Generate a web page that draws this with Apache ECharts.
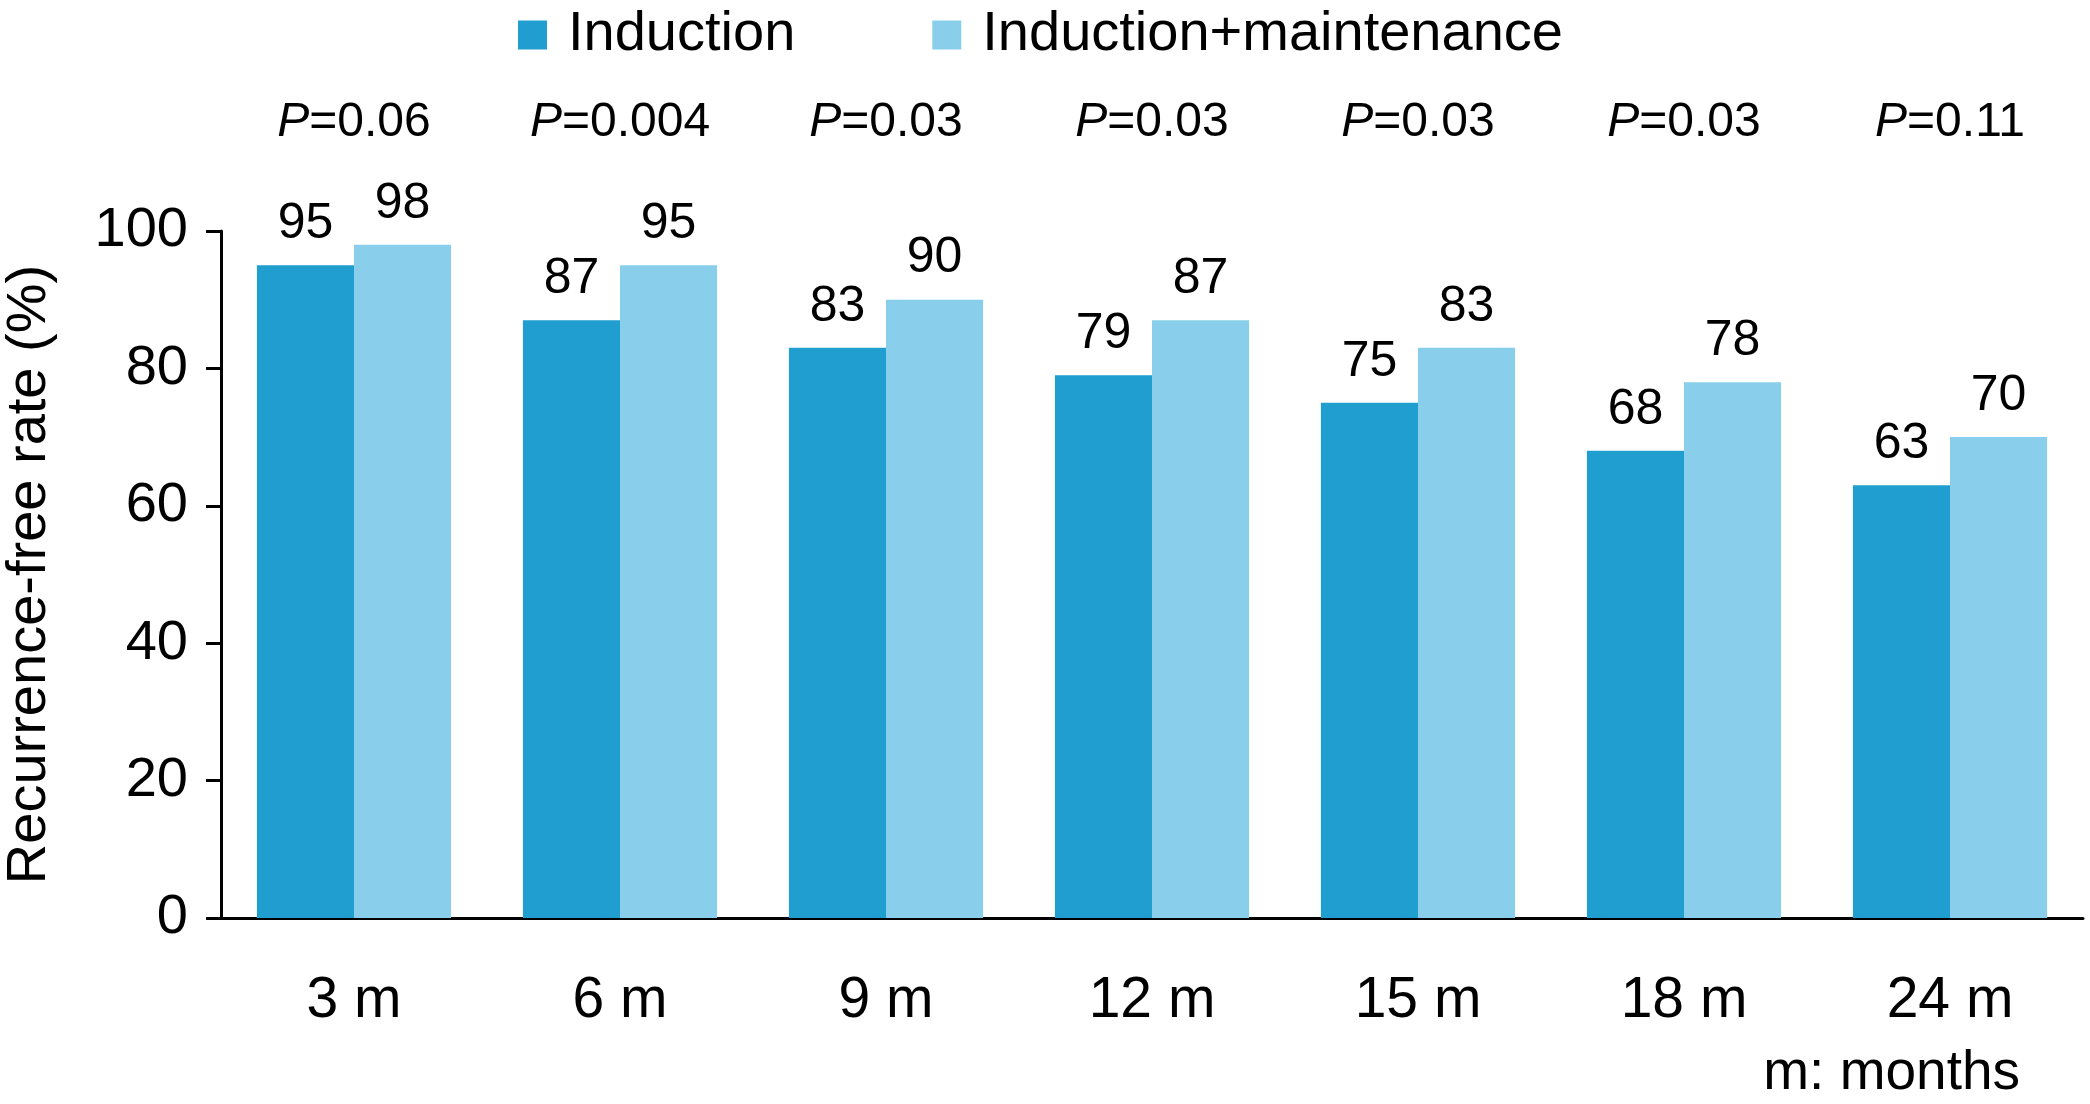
<!DOCTYPE html>
<html>
<head>
<meta charset="utf-8">
<script src="https://cdn.jsdelivr.net/npm/echarts@6/dist/echarts.min.js"></script>
<style>
html,body{margin:0;padding:0;background:#fff;}
#chart{width:2090px;height:1104px;}
</style>
</head>
<body>
<div id="chart"></div>
<script>
const categories = ['3 m', '6 m', '9 m', '12 m', '15 m', '18 m', '24 m'];
const induction = [95, 87, 83, 79, 75, 68, 63];
const inductionMaintenance = [98, 95, 90, 87, 83, 78, 70];
const pValues = ['0.06', '0.004', '0.03', '0.03', '0.03', '0.03', '0.11'];
const yTicks = [0, 20, 40, 60, 80, 100];

const FONT = '"Liberation Sans", Arial, sans-serif';

const chart = echarts.init(document.getElementById('chart'));
chart.setOption({
  animation: false,
  backgroundColor: '#ffffff',
  textStyle: { fontFamily: FONT, color: '#000' },
  legend: {
    top: 2,
    left: 513,
    itemWidth: 29,
    itemHeight: 29,
    itemGap: 137,
    icon: 'rect',
    textStyle: { fontSize: 56, fontFamily: FONT, color: '#000', padding: [0, 0, 0, 16] },
    data: ['Induction', 'Induction+maintenance']
  },
  grid: { left: 221, right: 7, top: 231, bottom: 186, containLabel: false, outerBoundsMode: 'none' },
  xAxis: [{
    type: 'category',
    data: categories,
    position: 'bottom',
    axisLine: { lineStyle: { color: '#000', width: 3 } },
    axisTick: { length: 18, lineStyle: { color: '#000', width: 3 } },
    axisLabel: { fontSize: 57, fontFamily: FONT, color: '#000', margin: 55 }
  }, {
    type: 'category',
    data: pValues,
    position: 'top',
    axisLine: { show: false },
    axisTick: { show: false },
    axisLabel: {
      margin: 84,
      formatter: v => '{i|P}{n|=' + v + '}',
      rich: {
        i: { fontSize: 48, fontFamily: FONT, fontStyle: 'italic', color: '#000' },
        n: { fontSize: 48, fontFamily: FONT, color: '#000' }
      }
    }
  }],
  yAxis: {
    type: 'value',
    min: 0, max: 100, interval: 20,
    name: 'Recurrence-free rate (%)',
    nameLocation: 'middle',
    nameGap: 163,
    nameTextStyle: { fontSize: 56, fontFamily: FONT, color: '#000' },
    axisLine: { show: true, lineStyle: { color: '#000', width: 3 } },
    axisTick: { show: true, length: 15, lineStyle: { color: '#000', width: 3 } },
    axisLabel: { fontSize: 56, fontFamily: FONT, color: '#000', margin: 33,
      formatter: v => yTicks.includes(v) ? String(v) : '' },
    splitLine: { show: false }
  },
  series: [{
    name: 'Induction',
    type: 'bar',
    data: induction,
    barGap: '0%',
    barCategoryGap: '27%',
    itemStyle: { color: '#209ecf' },
    label: { show: true, position: 'top', distance: 16, fontSize: 50, fontFamily: FONT, color: '#000' }
  }, {
    name: 'Induction+maintenance',
    type: 'bar',
    data: inductionMaintenance,
    barGap: '0%',
    barCategoryGap: '27%',
    itemStyle: { color: '#89cfeb' },
    label: { show: true, position: 'top', distance: 16, fontSize: 50, fontFamily: FONT, color: '#000' }
  }],
  graphic: [{
    type: 'text',
    right: 70,
    top: 1046,
    style: { text: 'm: months', fontSize: 55, fontFamily: FONT, fill: '#000' }
  }]
});
</script>
</body>
</html>
